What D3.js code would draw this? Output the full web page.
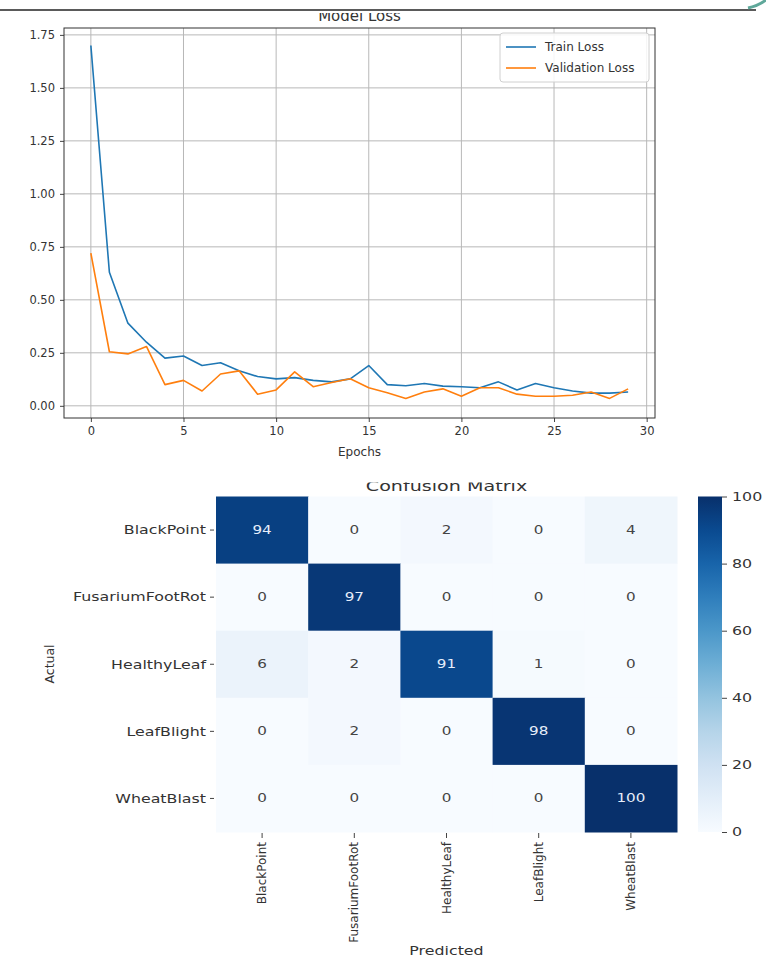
<!DOCTYPE html>
<html><head><meta charset="utf-8">
<script src="https://cdn.jsdelivr.net/npm/d3@7"></script>
<style>body{margin:0;background:#fff}svg{display:block}text{font-family:"DejaVu Sans",sans-serif}</style>
</head><body>
<svg id="c" width="766" height="958"></svg>
<script>
const epochs = [0,1,2,3,4,5,6,7,8,9,10,11,12,13,14,15,16,17,18,19,20,21,22,23,24,25,26,27,28,29];
const trainLoss = [1.70,0.63,0.39,0.30,0.225,0.235,0.19,0.203,0.165,0.138,0.127,0.133,0.12,0.113,0.127,0.19,0.10,0.095,0.105,0.093,0.09,0.085,0.113,0.075,0.105,0.085,0.07,0.06,0.06,0.065];
const valLoss = [0.72,0.255,0.245,0.28,0.10,0.12,0.07,0.15,0.165,0.055,0.075,0.16,0.09,0.11,0.128,0.085,0.062,0.035,0.065,0.08,0.045,0.085,0.085,0.055,0.045,0.045,0.05,0.065,0.035,0.08];
const xTicks = [0,5,10,15,20,25,30];
const yTicks = [0,0.25,0.5,0.75,1.0,1.25,1.5,1.75];
const seriesNames = ["Train Loss","Validation Loss"];
const seriesColors = ["#1f77b4","#ff7f0e"];

const classes = ["BlackPoint","FusariumFootRot","HealthyLeaf","LeafBlight","WheatBlast"];
const matrix = [
  [94,0,2,0,4],
  [0,97,0,0,0],
  [6,2,91,1,0],
  [0,2,0,98,0],
  [0,0,0,0,100]
];
const cbTicks = [0,20,40,60,80,100];

const svg = d3.select("#c");
const defs = svg.append("defs");

// top decoration line and corner
svg.append("line").attr("x1",0).attr("x2",756).attr("y1",10).attr("y2",10).attr("stroke","#5a5a5a").attr("stroke-width",2);
svg.append("path").attr("d","M748,8 Q758,6 766,0").attr("fill","none").attr("stroke","#5fa89a").attr("stroke-width",3);

// ---------- Loss chart ----------
const L = {l:64, r:655, t:28, b:418};
const x = d3.scaleLinear().domain([-1.45,30.45]).range([L.l,L.r]);
const y = d3.scaleLinear().domain([-0.0575,1.7825]).range([L.b,L.t]);

defs.append("clipPath").attr("id","titleclip").append("rect").attr("x",0).attr("y",13).attr("width",766).attr("height",40);
svg.append("text").attr("clip-path","url(#titleclip)").attr("x",(L.l+L.r)/2).attr("y",21)
  .attr("text-anchor","middle").attr("font-size",15).attr("fill","#333").text("Model Loss");

const g = svg.append("g");
// grid
g.selectAll(".gx").data(xTicks).join("line").attr("x1",d=>x(d)).attr("x2",d=>x(d)).attr("y1",L.t).attr("y2",L.b)
  .attr("stroke","#b8b8b8").attr("stroke-width",1);
g.selectAll(".gy").data(yTicks).join("line").attr("y1",d=>y(d)).attr("y2",d=>y(d)).attr("x1",L.l).attr("x2",L.r)
  .attr("stroke","#b8b8b8").attr("stroke-width",1);

const xAxis = g.append("g").attr("transform",`translate(0,${L.b})`).call(d3.axisBottom(x).tickValues(xTicks).tickSize(4).tickPadding(5).tickFormat(d3.format("d")));
const yAxis = g.append("g").attr("transform",`translate(${L.l},0)`).call(d3.axisLeft(y).tickValues(yTicks).tickSize(4).tickPadding(5).tickFormat(d3.format(".2f")));
[xAxis,yAxis].forEach(a=>{a.select(".domain").remove();a.selectAll("line").attr("stroke","#444");a.selectAll("text").attr("font-size",11.5).attr("fill","#333").attr("font-family","DejaVu Sans");});

const line = d3.line().x((d,i)=>x(epochs[i])).y(d=>y(d));
[trainLoss,valLoss].forEach((s,k)=>{
  g.append("path").datum(s).attr("d",line).attr("fill","none").attr("stroke",seriesColors[k]).attr("stroke-width",1.6).attr("stroke-linejoin","round");
});
g.append("rect").attr("x",L.l).attr("y",L.t).attr("width",L.r-L.l).attr("height",L.b-L.t).attr("fill","none").attr("stroke","#333").attr("stroke-width",1);

// legend
const lg = g.append("g");
lg.append("rect").attr("x",500).attr("y",33).attr("width",149).attr("height",49).attr("rx",3).attr("fill","#fff").attr("fill-opacity",0.85).attr("stroke","#d0d0d0");
seriesNames.forEach((n,k)=>{
  const yy = 47 + k*21;
  lg.append("line").attr("x1",506).attr("x2",536).attr("y1",yy).attr("y2",yy).attr("stroke",seriesColors[k]).attr("stroke-width",1.6);
  lg.append("text").attr("x",545).attr("y",yy+4).attr("font-size",12).attr("fill","#333").text(n);
});

svg.append("text").attr("x",(L.l+L.r)/2).attr("y",456).attr("text-anchor","middle").attr("font-size",12).attr("fill","#333").text("Epochs");
defs.append("clipPath").attr("id","ylabclip").append("rect").attr("x",11).attr("y",150).attr("width",40).attr("height",150);
svg.append("text").attr("clip-path","url(#ylabclip)").attr("transform","translate(17,222) rotate(-90)").attr("text-anchor","middle").attr("font-size",12).attr("fill","#333").text("Loss");

// ---------- Confusion matrix ----------
const M = {l:216, r:677, t:496.5, b:832};
const SX = 1.32;
const cx = d3.scaleBand().domain(classes).range([M.l,M.r]);
const cy = d3.scaleBand().domain(classes).range([M.t,M.b]);
const color = d3.scaleSequential(d3.interpolateBlues).domain([0,100]);

function stext(parent, tx, ty, str, opts){
  const t = parent.append("text").attr("transform",`translate(${tx},${ty}) scale(${SX},1)` + (opts.rot?` rotate(${opts.rot})`:""))
    .attr("font-size",opts.size||12).attr("fill",opts.fill||"#333").attr("text-anchor",opts.anchor||"middle")
    .attr("dominant-baseline",opts.base||"auto").text(str);
  return t;
}

defs.append("clipPath").attr("id","cmclip").append("rect").attr("x",0).attr("y",482.5).attr("width",766).attr("height",20);
const tg = svg.append("g").attr("clip-path","url(#cmclip)");
stext(tg,(M.l+M.r)/2,491,"Confusion Matrix",{size:14.5});

const cells = [];
matrix.forEach((row,i)=>row.forEach((v,j)=>cells.push({r:classes[i],c:classes[j],v})));
const mg = svg.append("g");
mg.selectAll("rect.cell").data(cells).join("rect").attr("class","cell")
  .attr("x",d=>cx(d.c)).attr("y",d=>cy(d.r)).attr("width",cx.bandwidth()+0.5).attr("height",cy.bandwidth()+0.5)
  .attr("fill",d=>color(d.v));
cells.forEach(d=>{
  stext(mg, cx(d.c)+cx.bandwidth()/2, cy(d.r)+cy.bandwidth()/2, String(d.v), {size:11.5, base:"central", fill: d.v>50?"#e6eefa":"#444"});
});
// row labels
classes.forEach(c=>{
  const yy = cy(c)+cy.bandwidth()/2;
  mg.append("line").attr("x1",M.l-6).attr("x2",M.l-2).attr("y1",yy).attr("y2",yy).attr("stroke","#444");
  stext(mg, M.l-10, yy, c, {size:12, anchor:"end", base:"central"});
  const xx = cx(c)+cx.bandwidth()/2;
  mg.append("line").attr("x1",xx).attr("x2",xx).attr("y1",M.b+1).attr("y2",M.b+6).attr("stroke","#444");
  svg.append("text").attr("transform",`translate(${xx},${M.b+10}) rotate(-90)`).attr("font-size",12).attr("fill","#333")
    .attr("text-anchor","end").attr("dominant-baseline","central").text(c);
});
stext(svg,(M.l+M.r)/2,955,"Predicted",{size:12});
svg.append("text").attr("transform",`translate(54,664) rotate(-90)`).attr("text-anchor","middle").attr("font-size",12.5).attr("fill","#333").text("Actual");

// colorbar
const cb = {l:698, r:722};
const cbY = d3.scaleLinear().domain([0,100]).range([M.b,M.t]);
const grad = defs.append("linearGradient").attr("id","cbgrad").attr("x1",0).attr("y1",1).attr("x2",0).attr("y2",0);
d3.range(0,1.0001,0.1).forEach(t=>grad.append("stop").attr("offset",t).attr("stop-color",d3.interpolateBlues(t)));
svg.append("rect").attr("x",cb.l).attr("y",cbY(100)).attr("width",cb.r-cb.l).attr("height",cbY(0)-cbY(100)).attr("fill","url(#cbgrad)");
const cbAxis = svg.append("g").attr("transform",`translate(${cb.r},0)`).call(d3.axisRight(cbY).tickValues(cbTicks).tickSize(5).tickPadding(4));
cbAxis.select(".domain").remove();
cbAxis.selectAll("line").attr("stroke","#444");
cbAxis.selectAll("text").remove();
cbTicks.forEach(t=>stext(svg, cb.r+10, cbY(t), String(t), {size:12, anchor:"start", base:"central"}));
</script>
</body></html>
